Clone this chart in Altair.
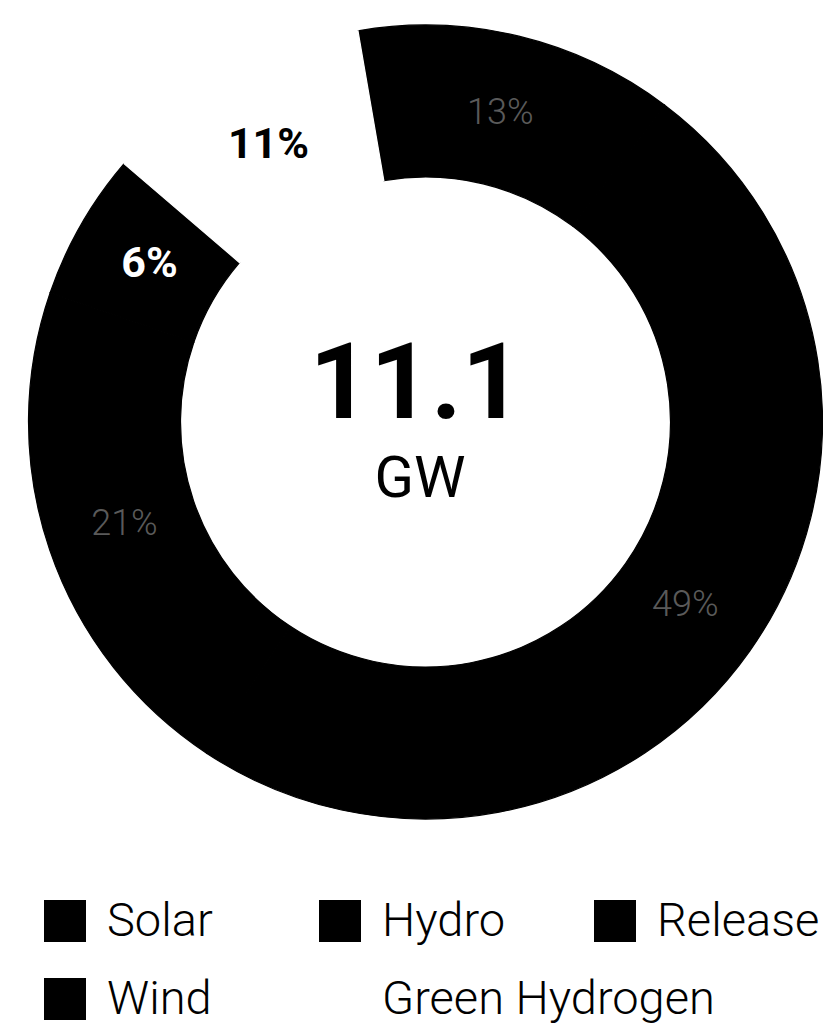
import math
import altair as alt
import pandas as pd

# ---- data ----
categories = ["Solar", "Hydro", "Release", "Wind", "Green Hydrogen"]
shares = [13, 49, 21, 6, 11]
share_labels = ["13%", "49%", "21%", "6%", "11%"]
total_value = ["11.1"]
total_unit = ["GW"]

seg_colors = ["#000000", "#000000", "#000000", "#000000", "#ffffff"]

df = pd.DataFrame({
    "cat": categories,
    "share": shares,
    "label": share_labels,
    "ord": list(range(len(categories))),
})

START = -0.171  # rotation of the first slice (radians)
CX, CY = 417.5, 414.0
R_OUT, R_IN, R_LAB = 397, 245, 318

color_scale = alt.Scale(domain=categories, range=seg_colors)

theta = alt.Theta("share:Q", stack=True,
                  scale=alt.Scale(range=[START, START + 2 * math.pi]))

base = alt.Chart(df).encode(
    theta=theta,
    order=alt.Order("ord:Q"),
)

arcs = base.mark_arc(outerRadius=R_OUT, innerRadius=R_IN, strokeWidth=1.2).encode(
    x=alt.value(CX), y=alt.value(CY),
    color=alt.Color("cat:N", scale=color_scale, legend=None),
    stroke=alt.Stroke("cat:N", scale=color_scale, legend=None),
)

thin_labels = base.mark_text(
    radius=R_LAB, font="Roboto", fontSize=36, fontWeight=300, color="#5a5a5a",
    baseline="middle", align="center",
).encode(
    x=alt.value(CX), y=alt.value(CY),
    text="label:N",
    opacity=alt.condition(
        alt.FieldOneOfPredicate(field="cat", oneOf=["Solar", "Hydro", "Release"]),
        alt.value(1), alt.value(0)),
)

bold_labels = base.mark_text(
    radius=R_LAB, font="Roboto", fontSize=43, fontWeight="bold",
    baseline="middle", align="center",
).encode(
    x=alt.value(CX), y=alt.value(CY),
    text="label:N",
    color=alt.condition(alt.datum.cat == "Green Hydrogen",
                        alt.value("#000000"), alt.value("#ffffff")),
    opacity=alt.condition(
        alt.FieldOneOfPredicate(field="cat", oneOf=["Wind", "Green Hydrogen"]),
        alt.value(1), alt.value(0)),
)

center_value = alt.Chart(pd.DataFrame({"t": total_value})).mark_text(
    font="Roboto", fontSize=106, fontWeight="bold",
    color="#000000", align="center", baseline="alphabetic",
).encode(text="t:N", x=alt.value(408), y=alt.value(410))

center_unit = alt.Chart(pd.DataFrame({"t": total_unit})).mark_text(
    font="Roboto", fontSize=58, fontWeight="normal",
    color="#000000", align="center", baseline="alphabetic",
).encode(text="t:N", x=alt.value(412), y=alt.value(489))

# ---- legend built from the category list: 3 entries per row ----
leg = alt.Chart(df).transform_calculate(
    col="datum.ord % 3",
    row="floor(datum.ord / 3)",
)
leg_x = alt.X("col:Q", scale=alt.Scale(domain=[0, 2], range=[57, 607]), axis=None)
leg_y = alt.Y("row:Q", scale=alt.Scale(domain=[0, 1], range=[913, 991]), axis=None)

leg_symbols = leg.mark_square(size=1764, opacity=1, strokeWidth=0).encode(
    x=leg_x, y=leg_y,
    fill=alt.Fill("cat:N", scale=color_scale, legend=None),
)
leg_text = leg.mark_text(
    font="Roboto", fontSize=47, fontWeight=300, color="#000000",
    align="left", baseline="middle", dx=42, dy=1,
).encode(x=leg_x, y=leg_y, text="cat:N")

chart = alt.layer(
    arcs, thin_labels, bold_labels, center_value, center_unit, leg_symbols, leg_text
).properties(
    width=815, height=1018,
    autosize=alt.AutoSizeParams(type="none"),
    padding=0,
    background="#ffffff",
).configure_view(stroke=None)

chart.save("out.html", embed_options={"renderer": "svg", "actions": False})
